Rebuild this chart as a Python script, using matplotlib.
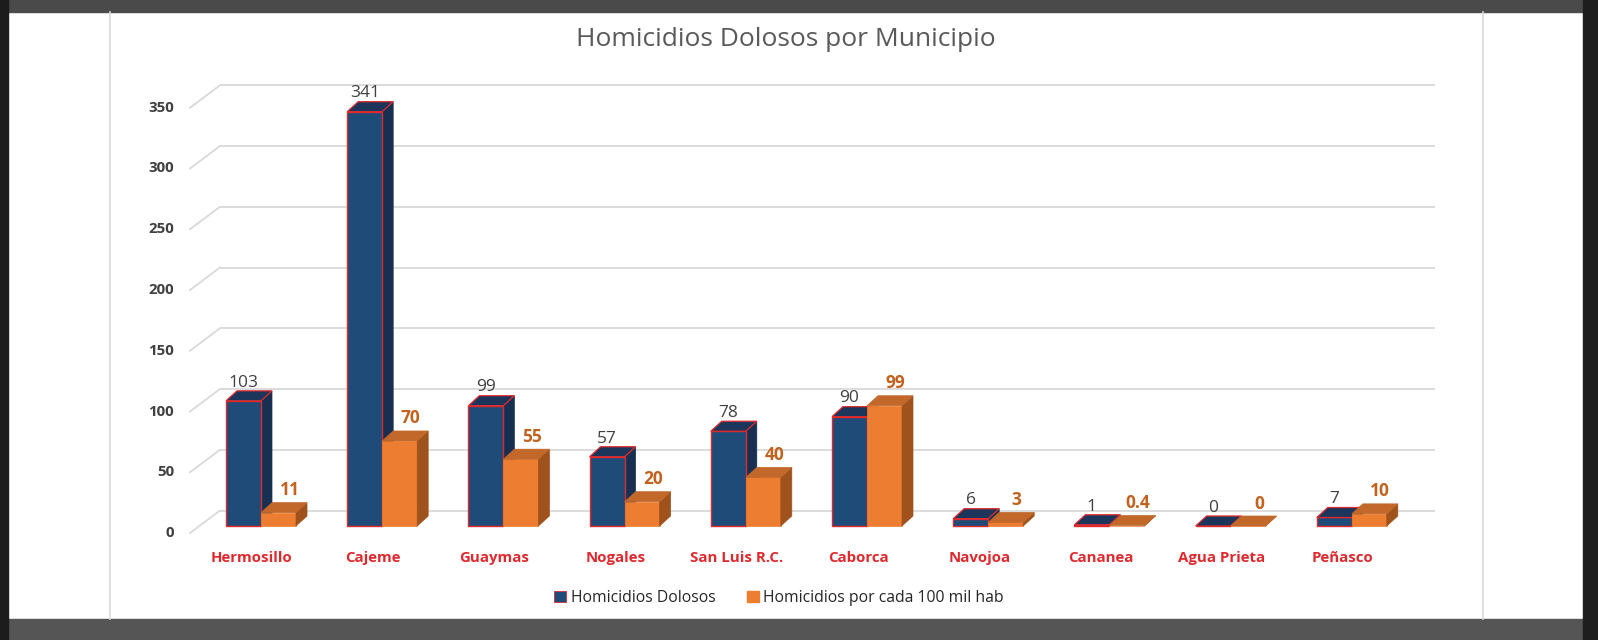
import matplotlib
matplotlib.use("Agg")
import matplotlib.pyplot as plt
from matplotlib.patches import Polygon, Rectangle, Patch
from matplotlib.lines import Line2D

plt.rcParams['font.family'] = ['Open Sans', 'DejaVu Sans']

# ---------------- data ----------------
title = "Homicidios Dolosos por Municipio"
categories = ["Hermosillo", "Cajeme", "Guaymas", "Nogales", "San Luis R.C.",
              "Caborca", "Navojoa", "Cananea", "Agua Prieta", "Peñasco"]
dolosos = [103, 341, 99, 57, 78, 90, 6, 1, 0, 7]
tasa = [11, 70, 55, 20, 40, 99, 3, 0.4, 0, 10]
tasa_labels = ["11", "70", "55", "20", "40", "99", "3", "0.4", "0", "10"]
series_names = ["Homicidios Dolosos", "Homicidios por cada 100 mil hab"]
yticks = [0, 50, 100, 150, 200, 250, 300, 350]

# ---------------- style / layout ----------------
W, H = 1598, 640
BLUE, BLUE_TOP, BLUE_SIDE = "#1f4b78", "#1b365a", "#172f50"
ORANGE, ORANGE_TOP, ORANGE_SIDE = "#ed7d31", "#c2682a", "#9f521b"
RED = "#de2a2e"
GRID = "#d9d9d9"

# pixel mapping of the bar front plane
X0, SX = 261.0, 121.2     # px of category 0 centre, px per category
Y0, SY = 526.0, 1.215     # px of value 0, px per value unit
AX_L, AX_R, AX_T, AX_B = 110, 1483, 20, 610

BW = 35 / SX              # bar width
DX, DV = 11 / SX, 10 / SY # bar depth offset
WALL_DV = 15.5 / SY       # back wall offset (value units)
WALL_X0, WALL_X1 = (220 - X0) / SX, (1435 - X0) / SX
FRONT_X, FRONT_DV = (190 - X0) / SX, -7 / SY


def fx(px):
    return px / W


def fy(py):
    return 1 - py / H


fig = plt.figure(figsize=(W / 100, H / 100), dpi=100)
fig.patch.set_facecolor("white")

# dark screenshot frame
fig.add_artist(Rectangle((0, fy(12)), 1, 12 / H, transform=fig.transFigure, color="#4a4a4a", zorder=0))
fig.add_artist(Rectangle((0, 0), 1, 21 / H, transform=fig.transFigure, color="#555555", zorder=0))
fig.add_artist(Rectangle((0, 0), 8 / W, 1, transform=fig.transFigure, color="#1c1c1c", zorder=0))
fig.add_artist(Rectangle((fx(1583), 0), 15 / W, 1, transform=fig.transFigure, color="#1e1e1e", zorder=0))
for xp in (110, 1483):
    fig.add_artist(Line2D([fx(xp), fx(xp)], [fy(619), fy(12)], transform=fig.transFigure,
                          color="#d9d9d9", lw=1.2, zorder=1))

ax = fig.add_axes([fx(AX_L), fy(AX_B), (AX_R - AX_L) / W, (AX_B - AX_T) / H])
ax.set_xlim((AX_L - X0) / SX, (AX_R - X0) / SX)
ax.set_ylim((Y0 - AX_B) / SY, (Y0 - AX_T) / SY)
ax.axis("off")

# back wall gridlines + oblique floor/side lines and tick labels
for v in yticks:
    ax.plot([WALL_X0, WALL_X1], [v + WALL_DV, v + WALL_DV], color=GRID, lw=1.3, zorder=1,
            solid_capstyle="butt")
    ax.plot([FRONT_X, WALL_X0], [v + FRONT_DV, v + WALL_DV], color=GRID, lw=1.3, zorder=1)
    ax.text((174 - X0) / SX, v + FRONT_DV, str(v), ha="right", va="center",
            fontsize=10.8, fontweight="bold", color="#404040")

xs = list(range(len(categories)))
blue_bars = ax.bar([x - BW for x in xs], dolosos, width=BW, align="edge",
                   color=BLUE, edgecolor=RED, linewidth=1.0, zorder=3)
orange_bars = ax.bar(xs, tasa, width=BW, align="edge",
                     color=ORANGE, edgecolor=ORANGE, linewidth=0.5, zorder=5)


def faces(rect):
    x0, w, h = rect.get_x(), rect.get_width(), rect.get_height()
    top = [(x0, h), (x0 + w, h), (x0 + w + DX, h + DV), (x0 + DX, h + DV)]
    side = [(x0 + w, 0), (x0 + w + DX, DV), (x0 + w + DX, h + DV), (x0 + w, h)]
    return top, side


for r in blue_bars:
    top, side = faces(r)
    ax.add_patch(Polygon(side, closed=True, fc=BLUE_SIDE, ec=BLUE_SIDE, lw=0.5, zorder=2))
    ax.add_patch(Polygon(top, closed=True, fc=BLUE_TOP, ec=RED, lw=0.9, zorder=4))
for r in orange_bars:
    top, side = faces(r)
    ax.add_patch(Polygon(side, closed=True, fc=ORANGE_SIDE, ec=ORANGE_SIDE, lw=0.5, zorder=5))
    ax.add_patch(Polygon(top, closed=True, fc=ORANGE_TOP, ec=ORANGE_TOP, lw=0.5, zorder=5))

# data labels
for r, v in zip(blue_bars, dolosos):
    ax.text(r.get_x() + r.get_width() / 2, r.get_height() + 15, str(v), ha="center", va="center",
            fontsize=12.5, color="#404040", zorder=6)
for r, lab in zip(orange_bars, tasa_labels):
    ax.text(r.get_x() + r.get_width() / 2 + DX, r.get_height() + 18.5, lab, ha="center", va="center",
            fontsize=12.5, fontweight="bold", color="#c2621f", zorder=6)

# category labels
for x, c in zip(xs, categories):
    ax.text(x - 9 / SX, (Y0 - 558) / SY, c, ha="center", va="center", fontsize=10.8,
            fontweight="bold", color=RED)

# title
fig.text(fx(786), fy(39), title, ha="center", va="center", fontsize=19, color="#595959")

# legend
handles = [Patch(facecolor=BLUE, edgecolor=RED, linewidth=0.6), Patch(facecolor=ORANGE, edgecolor=ORANGE)]
fig.legend(handles, series_names, loc="center", bbox_to_anchor=(fx(779), fy(598)), ncol=2,
           frameon=False, handlelength=0.75, handleheight=0.75, handletextpad=0.3,
           columnspacing=2.0, fontsize=11.3, labelcolor="#262626")

fig.savefig("out.png", dpi=100)
